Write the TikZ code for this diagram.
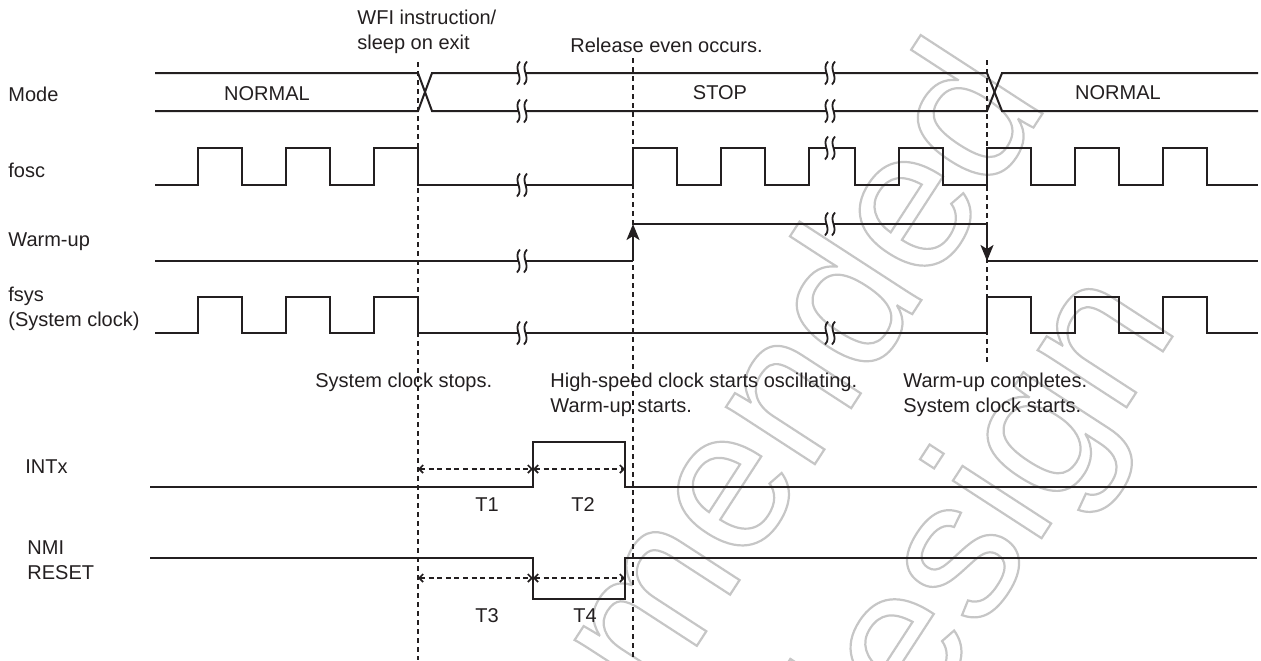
\documentclass[tikz,border=0pt]{standalone}
\usepackage{fontspec}
\setmainfont{Liberation Sans}
\usepackage{tikz}
\usetikzlibrary{arrows.meta}
\definecolor{WaveBlack}{HTML}{231F20}
\definecolor{MarkGray}{HTML}{C6C6C6}

\begin{document}
\begin{tikzpicture}[
  x=0.5pt, y=-0.5pt,
  font=\fontsize{10}{12.5}\selectfont,
  wave/.style={line width=1pt,draw=WaveBlack,line join=miter},
  guide/.style={line width=0.75pt,draw=WaveBlack,dash pattern=on 2.5pt off 2pt},
  span/.style={line width=0.85pt,draw=WaveBlack,dash pattern=on 2.5pt off 1.8pt,
    {Straight Barb[length=2pt,width=4pt]}-{Straight Barb[length=2pt,width=4pt]}},
  edgearrow/.style={wave,-{Stealth[length=8pt,width=6.5pt,inset=2pt]}},
  signame/.style={anchor=west,inner sep=0pt,align=left,text=WaveBlack},
  note/.style={anchor=west,inner sep=0pt,align=left,text=WaveBlack},
  modetext/.style={inner sep=0pt,text=WaveBlack},
  wmark/.style={inner sep=0pt,rotate=57,anchor=base east,text=MarkGray,
    font=\fontsize{100}{110}\selectfont},
  brk/.pic={
    \fill[white] (-3.5,-3) rectangle (3.5,3);
    \foreach \dx in {-3.5,3.5}
      \draw[line width=0.9pt,draw=WaveBlack] (\dx+1.5,-11.5) .. controls (\dx-6,-4) and (\dx+6,4) .. (\dx-1.5,11.5);
  }
]
\useasboundingbox (0,0) rectangle (1261,660);

% Watermark (outlined, behind everything)
\begin{scope}
  \clip (0,0) rectangle (1261,660);
  \node[wmark] (wmone) at (1050,102)
    {\special{pdf:literal direct 1 Tr 1.1 w}Not recommended\special{pdf:literal direct 0 Tr}};
  \node[wmark] (wmtwo) at (1180,325)
    {\special{pdf:literal direct 1 Tr 1.1 w}for new design\special{pdf:literal direct 0 Tr}};
\end{scope}

% Signal names
\node[signame] (nmode) at (8,94) {Mode};
\node[signame] (nfosc) at (8,170) {fosc};
\node[signame] (nwarm) at (8,242) {Warm-up};
\node[signame] (nfsys) at (8,309) {fsys\\(System clock)};
\node[signame] (nintx) at (25,467) {INTx};
\node[signame] (nnmi) at (27,560.5) {NMI\\RESET};

% Event guides
\draw[guide] (418,62) -- (418,660);
\draw[guide] (633,58) -- (633,660);
\draw[guide] (987,60) -- (987,365);

% Mode bus
\draw[wave] (155,73) -- (418,73) -- (432,111) -- (987,111) -- (1002,73) -- (1258,73);
\draw[wave] (155,111) -- (418,111) -- (432,73) -- (987,73) -- (1002,111) -- (1258,111);
\node[modetext] (mnormal) at (267,94) {NORMAL};
\node[modetext] (mstop) at (720,93) {STOP};
\node[modetext] (mnormaltwo) at (1118,93) {NORMAL};

% fosc
\draw[wave] (155,185)
  foreach \x in {198,286,374} {-- (\x,185) -- (\x,148) -- (\x+44,148) -- (\x+44,185)}
  foreach \x in {633,721} {-- (\x,185) -- (\x,148) -- (\x+44,148) -- (\x+44,185)}
  -- (809,185) -- (809,148) -- (855,148) -- (855,185)
  foreach \x in {899,987,1075,1163} {-- (\x,185) -- (\x,148) -- (\x+44,148) -- (\x+44,185)}
  -- (1258,185);

% Warm-up
\draw[wave] (155,261) -- (633,261);
\draw[edgearrow] (633,261) -- (633,224);
\draw[wave] (633,224) -- (987,224);
\draw[edgearrow] (987,224) -- (987,261);
\draw[wave] (987,261) -- (1258,261);

% fsys
\draw[wave] (155,333)
  foreach \x in {198,286,374} {-- (\x,333) -- (\x,297) -- (\x+44,297) -- (\x+44,333)}
  foreach \x in {987,1075,1163} {-- (\x,333) -- (\x,297) -- (\x+44,297) -- (\x+44,333)}
  -- (1258,333);

% Line breaks
\foreach \y in {73,111,185,261,333}
  \pic at (522,\y) {brk};
\foreach \y in {73,111,148,224,333}
  \pic at (830,\y) {brk};

% Event notes
\node[note] (nwfi) at (357,31.5) {WFI instruction/\\sleep on exit};
\node[note] (nrel) at (570,45) {Release even occurs.};
\node[note] (nstops) at (315,382) {System clock stops.};
\node[note] (nhigh) at (550,394.5) {High-speed clock starts oscillating.\\Warm-up starts.};
\node[note] (ncompl) at (903,394.5) {Warm-up completes.\\System clock starts.};

% INTx
\draw[wave] (150,487) -- (533,487) -- (533,442) -- (625,442) -- (625,487) -- (1257,487);
\draw[span] (418,469) -- (533,469);
\draw[span] (533,469) -- (625,469);
\node[modetext] (tone) at (487,505) {T1};
\node[modetext] (ttwo) at (583,505) {T2};

% NMI / RESET
\draw[wave] (150,558) -- (533,558) -- (533,599) -- (625,599) -- (625,558) -- (1257,558);
\draw[span] (418,578) -- (533,578);
\draw[span] (533,578) -- (625,578);
\node[modetext] (tthree) at (487,616) {T3};
\node[modetext] (tfour) at (585,616) {T4};

\end{tikzpicture}
\end{document}
